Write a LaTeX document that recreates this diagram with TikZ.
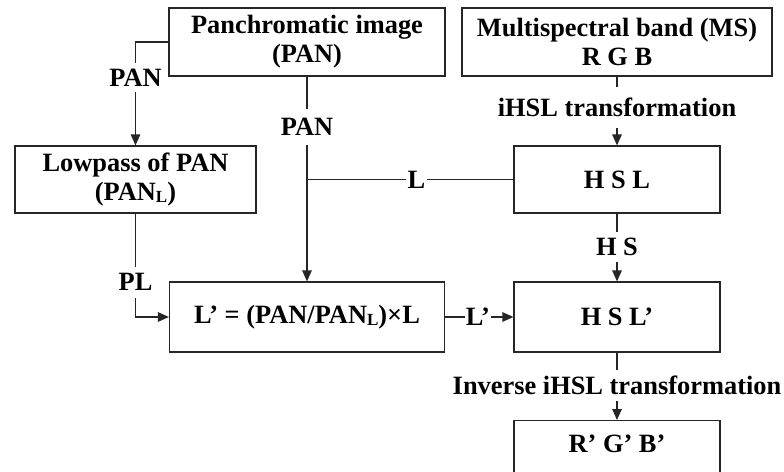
\documentclass[tikz,border=0pt]{standalone}
\usepackage{fontspec}
\setmainfont{Liberation Serif}
\usetikzlibrary{arrows.meta}
% lowered small L used as a subscript in PAN_L
\newcommand\lowL{\raisebox{-2.5pt}{\fontsize{17}{17}\selectfont L}}

\begin{document}
\begin{tikzpicture}[x=1pt,y=-1pt,
  font=\fontsize{26.4}{29}\selectfont\bfseries,
  flow/.style={draw=black!85, line width=1.2pt},
  box/.style={flow, rectangle, inner sep=0pt, align=center},
  lab/.style={fill=white, inner xsep=2pt, inner ysep=6pt},
  arr/.style={-{Triangle[length=11pt,width=9.5pt]}}]
\useasboundingbox (0,0) rectangle (784,471);

% processing blocks
\node[box, minimum width=276pt, minimum height=68pt] (pan) at (307,42)
  {Panchromatic image\\(PAN)};
\node[box, minimum width=310pt, minimum height=68pt] (ms) at (617,42)
  {Multispectral band (MS)\\R G B};
\node[box, minimum width=241pt, minimum height=67pt] (low) at (135.5,179.5)
  {Lowpass of PAN\\(PAN\lowL)};
\node[box, minimum width=206pt, minimum height=67pt] (hsl) at (617,179.5)
  {H S L};
\node[box, minimum width=275pt, minimum height=70pt] (lp) at (307,317)
  {L’ = (PAN/PAN\lowL)×L};
\node[box, minimum width=206pt, minimum height=70pt] (hslp) at (617,317)
  {H S L’};
\node[box, minimum width=206pt, inner ysep=0pt, text height=32pt, text depth=40pt,
  anchor=north] (rgbp) at (617,420) {R’ G’ B’};

% data flow
\coordinate (j) at (pan.south |- hsl.west);
\draw[flow,arr] (pan.west) -| node[lab,pos=0.673]{PAN} (low.north);
\draw[flow,arr] (pan.south) -- node[lab,pos=0.245,inner ysep=9.5pt]{PAN} (lp.north);
\draw[flow] (j) -- node[lab,pos=0.53,inner xsep=1.5pt,inner ysep=2pt]{L} (hsl.west);
\draw[flow,arr] (low.south) |- node[lab,pos=0.332,inner ysep=7pt]{PL} (lp.west);
\draw[flow,arr] (ms.south) -- node[lab,pos=0.45,inner ysep=11pt]{iHSL transformation} (hsl.north);
\draw[flow,arr] (hsl.south) -- node[lab,pos=0.49]{H S} (hslp.north);
\draw[flow,arr] (lp.east) -- node[lab,pos=0.48,inner xsep=1pt,inner ysep=2pt]{L’} (hslp.west);
\draw[flow,arr] (hslp.south) -- node[lab,pos=0.485]{Inverse iHSL transformation} (rgbp.north);
\end{tikzpicture}
\end{document}
